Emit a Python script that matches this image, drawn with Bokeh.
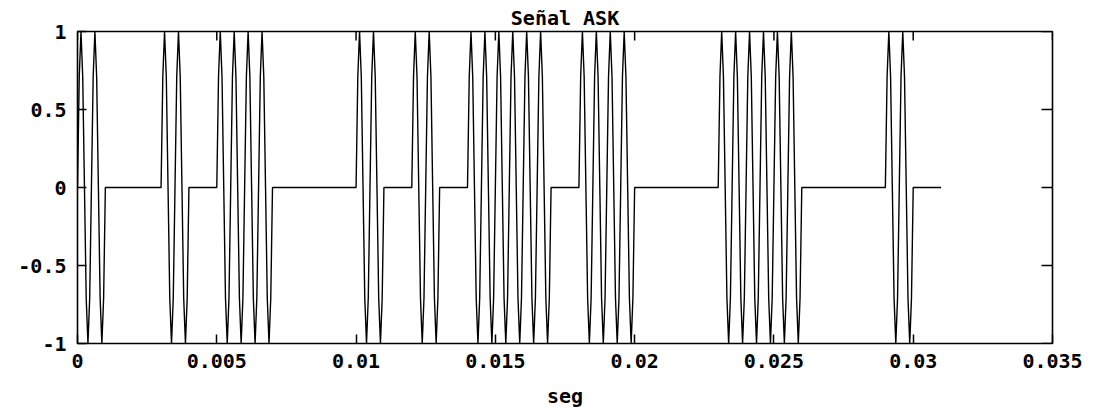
import math
from bokeh.plotting import figure
from bokeh.models import Range1d, FixedTicker
from bokeh.embed import file_html
from bokeh.resources import INLINE

# ---- data ----
bits = [1, 0, 0, 1, 0, 1, 1, 0, 0, 0,
        1, 0, 1, 0, 1, 1, 1, 0, 1, 1,
        0, 0, 0, 1, 1, 1, 0, 0, 0, 1, 0]
carrier = [0.0, 0.71, 1.0, 0.71, 0.0, -0.71, -1.0, -0.71]   # one carrier period, sampled
cycles_per_bit = 2
bit_time = 0.001   # seconds

x_ticks = [0, 0.005, 0.01, 0.015, 0.02, 0.025, 0.03, 0.035]
x_tick_labels = ["0", "0.005", "0.01", "0.015", "0.02", "0.025", "0.03", "0.035"]
y_ticks = [-1, -0.5, 0, 0.5, 1]
y_tick_labels = ["-1", "-0.5", "0", "0.5", "1"]
title_text = "Señal ASK"
x_label = "seg"

# ---- build the ASK signal from bits and carrier samples ----
spb = len(carrier) * cycles_per_bit
xs, ys = [], []
for i, b in enumerate(bits):
    for k in range(spb):
        xs.append((i + k / spb) * bit_time)
        ys.append(b * carrier[k % len(carrier)])
xs.append(len(bits) * bit_time)
ys.append(0.0)

FONT = "DejaVu Sans Mono"
FS = "20px"
x0, x1 = x_ticks[0], x_ticks[-1]
y0, y1 = y_ticks[0], y_ticks[-1]

W, H = 1090, 414
p = figure(width=W, height=H, output_backend="svg", toolbar_location=None,
           x_range=Range1d(x0, x1), y_range=Range1d(y0, y1),
           min_border_left=77, min_border_right=W - 1052,
           min_border_top=31, min_border_bottom=H - 343)
p.title.text = title_text
p.title.align = "center"
p.title.text_font = FONT
p.title.text_font_style = "bold"
p.title.text_font_size = FS
p.title.text_color = "black"
p.title.standoff = 3
p.title.offset = 0
p.background_fill_color = "white"
p.border_fill_color = "white"
p.outline_line_color = "black"
p.outline_line_width = 1.6
p.xgrid.visible = False
p.ygrid.visible = False

p.line(xs, ys, line_color="black", line_width=1.4)

def style(ax, ticks, labels):
    ax.ticker = FixedTicker(ticks=ticks)
    ax.minor_tick_line_color = None
    ax.major_tick_in = 9
    ax.major_tick_out = 0
    ax.major_tick_line_color = "black"
    ax.major_tick_line_width = 1.5
    ax.axis_line_color = None
    ax.major_label_overrides = {t: l for t, l in zip(ticks, labels)}
    ax.major_label_text_font = FONT
    ax.major_label_text_font_style = "bold"
    ax.major_label_text_color = "black"
    ax.major_label_text_font_size = FS

style(p.xaxis[0], x_ticks, x_tick_labels)
p.xaxis[0].major_label_standoff = 10
p.xaxis[0].axis_label = x_label
p.xaxis[0].axis_label_text_font = FONT
p.xaxis[0].axis_label_text_font_style = "bold"
p.xaxis[0].axis_label_text_font_size = FS
p.xaxis[0].axis_label_text_color = "black"
p.xaxis[0].axis_label_standoff = 13

style(p.yaxis[0], y_ticks, y_tick_labels)
p.yaxis[0].major_label_standoff = 11

# mirrored inward ticks on the top and right edges of the box
p.ray(x=x_ticks, y=[y1] * len(x_ticks), length=9, length_units="screen",
      angle=-math.pi / 2, line_color="black", line_width=1.5)
p.ray(x=[x1] * len(y_ticks), y=y_ticks, length=11, length_units="screen",
      angle=math.pi, line_color="black", line_width=1.5)

open("out.html", "w").write(file_html(p, INLINE))
